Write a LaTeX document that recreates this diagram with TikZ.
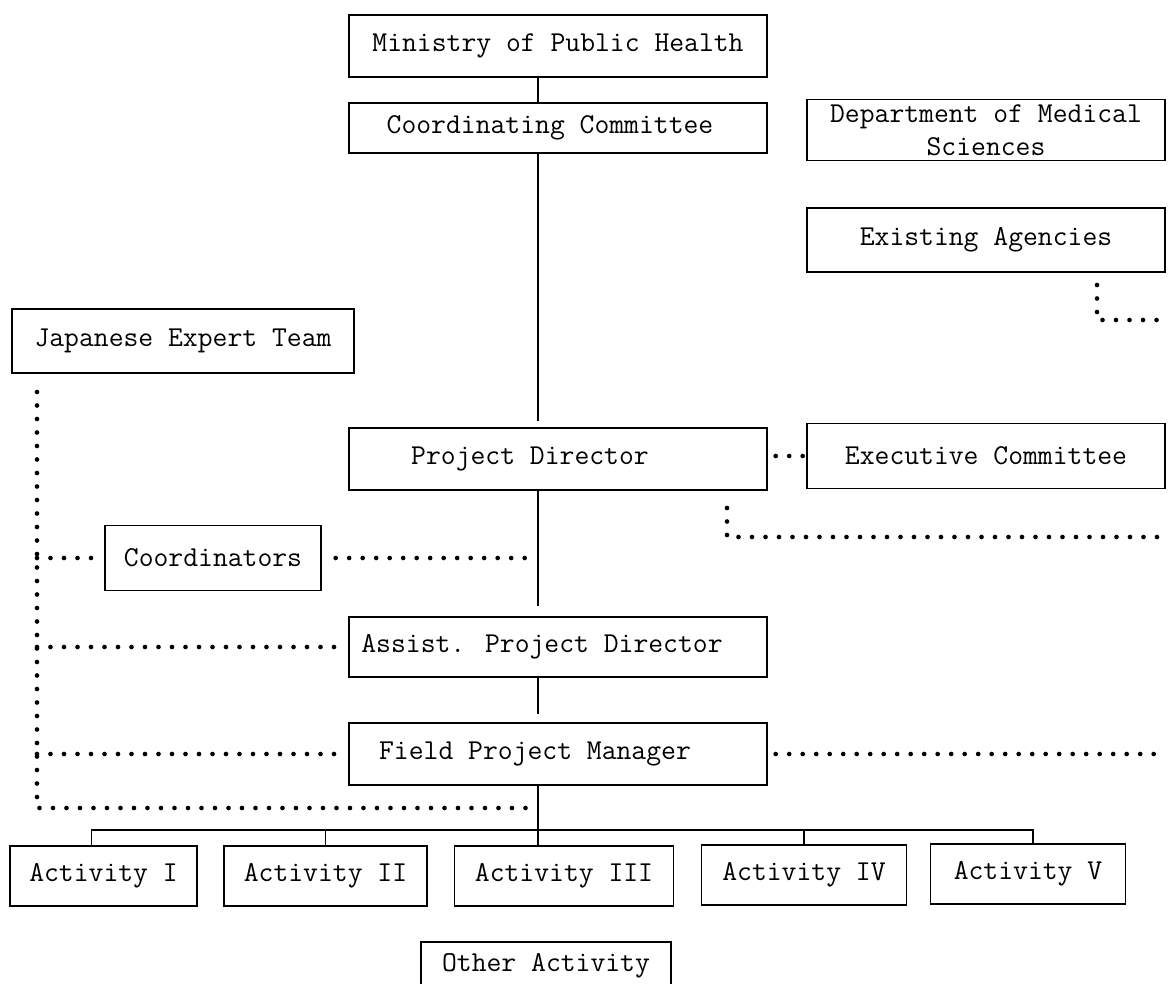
\documentclass[tikz,border=0pt]{standalone}
\usepackage{fontspec}
\tikzset{
  orgbox/.style={draw,line width=0.9pt,minimum height=1.55cm,inner xsep=2pt,
    font=\ttfamily\fontsize{20.5}{23.5}\selectfont},
  link/.style={line width=1pt},
  dotline/.style={line width=3.3pt,line cap=round,dash pattern=on 0pt off 9.6pt}
}
\begin{document}
\begin{tikzpicture}[x=0.025cm,y=-0.025cm]
\useasboundingbox (0,0) rectangle (1170,984);
\coordinate (spine) at (538,0);
\coordinate (redge) at (1160,0);
% main column
\node[orgbox,minimum width=10.45cm] (ministry) at (558,46) {Ministry of Public Health};
\node[orgbox,minimum width=10.45cm,minimum height=1.25cm] (ccom) at (558,128) {Coordinating Committee\hspace*{0.4cm}};
\node[orgbox,minimum width=10.45cm] (pd) at (558,459) {Project Director\hspace*{1.4cm}};
\node[orgbox,minimum width=10.45cm,minimum height=1.5cm] (apd) at (558,647) {Assist. Project Director\hspace*{0.8cm}};
\node[orgbox,minimum width=10.45cm] (fpm) at (558,754) {Field Project Manager\hspace*{1.15cm}};
% right column
\node[orgbox,minimum width=8.95cm,minimum height=1.475cm,align=center] (dms) at (986,130) {Department of Medical\\Sciences};
\node[orgbox,minimum width=8.95cm,minimum height=1.6cm] (exag) at (986,240) {Existing Agencies};
\node[orgbox,minimum width=8.95cm,minimum height=1.62cm] (exco) at (986,456) {Executive Committee};
% left column
\node[orgbox,minimum width=8.55cm,minimum height=1.6cm] (jet) at (183,341) {Japanese Expert Team};
\node[orgbox,minimum width=5.4cm,minimum height=1.62cm] (crd) at (213,558) {Coordinators};
% activities
\node[orgbox,minimum width=4.675cm,minimum height=1.5cm] (act1) at (103.5,876) {Activity I};
\node[orgbox,minimum width=5.075cm,minimum height=1.5cm] (act2) at (325.5,876) {Activity II};
\node[orgbox,minimum width=5.475cm,minimum height=1.5cm] (act3) at (564,876) {Activity III};
\node[orgbox,minimum width=5.125cm,minimum height=1.5cm] (act4) at (804,875) {Activity IV};
\node[orgbox,minimum width=4.875cm,minimum height=1.5cm] (act5) at (1028,874) {Activity V};
\node[orgbox,minimum width=6.25cm,minimum height=1.2cm] (oth) at (546,966) {Other Activity};

% solid links
\draw[link] (ministry.south -| spine) -- (ccom.north -| spine);
\draw[link,shorten >=0.15cm] (ccom.south -| spine) -- (pd.north -| spine);
\draw[link,shorten >=0.25cm] (pd.south -| spine) -- (apd.north -| spine);
\draw[link,shorten >=0.2cm] (apd.south -| spine) -- (fpm.north -| spine);
\draw[link] (fpm.south -| spine) -- (act3.north -| spine);
\coordinate (bus) at (0,830);
\draw[link] ([xshift=-0.3cm]act1.north) -- ([xshift=-0.3cm]act1.north |- bus)
  -- ([xshift=0.125cm]act5.north |- bus) -- ([xshift=0.125cm]act5.north);
\draw[link] (act2.north) -- (act2.north |- bus);
\draw[link] (act4.north) -- (act4.north |- bus);

% dotted links
\coordinate (jtop) at (37,392);
\coordinate (jbot) at (37,808);
\draw[dotline,shorten >=0.2cm] (jtop) -- (jbot) -- (jbot -| spine);
\draw[dotline,shorten >=0.15cm] (jtop |- crd.west) -- (crd.west);
\draw[dotline,shorten <=0.35cm,shorten >=0.25cm] (crd.east) -- (crd.east -| spine);
\draw[dotline,shorten >=0.2cm] (jtop |- apd.west) -- (apd.west);
\draw[dotline,shorten >=0.2cm] (jtop |- fpm.west) -- (fpm.west);
\draw[dotline,shorten <=0.2cm] (fpm.east) -- (fpm.east -| redge);
\draw[dotline,shorten <=0.2cm,shorten >=0.05cm] (pd.east |- exco.west) -- (exco.west);
\coordinate (pdk) at (727,508);
\coordinate (pdr) at (1160,537);
\draw[dotline] (pdk) -- (pdk |- pdr) -- (pdr);
\coordinate (exk) at (1097,285);
\coordinate (exr) at (1160,320);
\draw[dotline] (exk) -- (exk |- exr) -- (exr);
\end{tikzpicture}
\end{document}
